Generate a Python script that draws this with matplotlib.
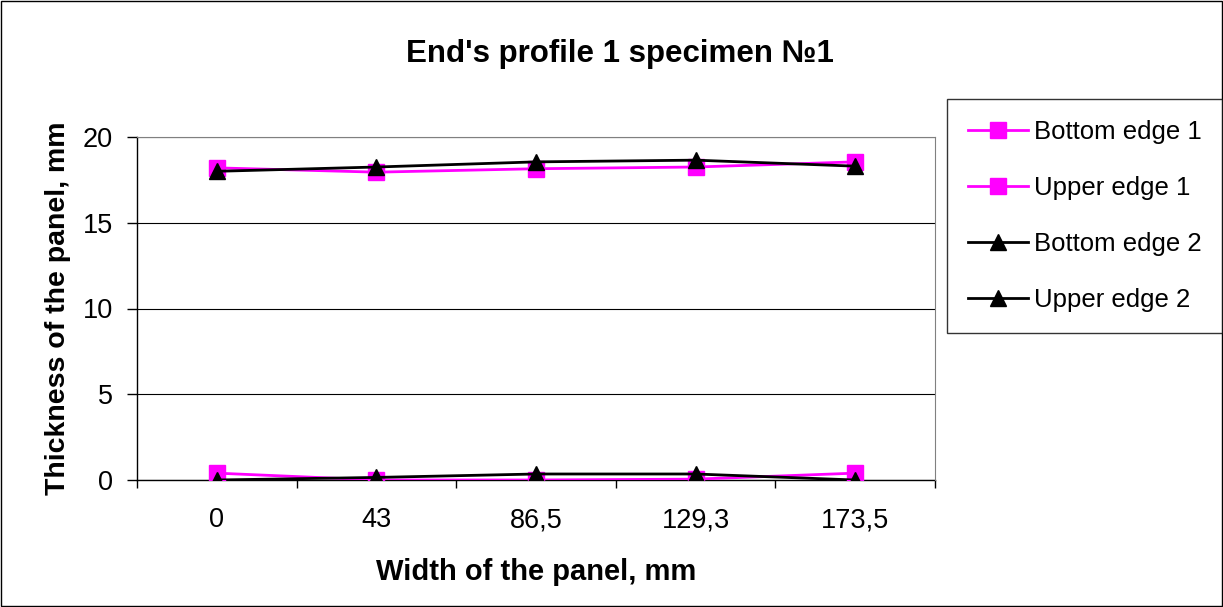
import numpy as np
import matplotlib.pyplot as plt
from matplotlib.patches import Rectangle

plt.rcParams['font.family'] = ['Liberation Sans', 'DejaVu Sans']

# panel width positions (category labels)
widths = ['0', '43', '86,5', '129,3', '173,5']

# measured thickness, mm
bottom_edge_1 = [0.4, 0.0, 0.0, 0.05, 0.4]
upper_edge_1 = [18.2, 17.95, 18.15, 18.25, 18.55]
bottom_edge_2 = [0.0, 0.15, 0.35, 0.35, 0.0]
upper_edge_2 = [18.0, 18.25, 18.55, 18.65, 18.3]

fig = plt.figure(figsize=(12.23, 6.07), dpi=100)
fig.patches.append(Rectangle((0.001, 0.002), 0.998, 0.996, transform=fig.transFigure,
                             fill=False, edgecolor='black', linewidth=1))

W, H = 1223, 607
ax = fig.add_axes([137 / W, 1 - 480 / H, (935 - 137) / W, (480 - 137) / H])

x = np.arange(len(widths))
mag = '#ff00ff'
ms = 11
lw = 2
ax.plot(x, bottom_edge_1, color=mag, marker='s', markersize=ms, linewidth=lw,
        label='Bottom edge 1', zorder=3)
ax.plot(x, upper_edge_1, color=mag, marker='s', markersize=ms, linewidth=lw,
        label='Upper edge 1', zorder=3)
ax.plot(x, bottom_edge_2, color='black', marker='^', markersize=ms, linewidth=lw,
        label='Bottom edge 2', zorder=4)
ax.plot(x, upper_edge_2, color='black', marker='^', markersize=ms, linewidth=lw,
        label='Upper edge 2', zorder=4)

ax.set_xlim(-0.5, len(widths) - 0.5)
ax.set_ylim(0, 20)
ax.set_yticks([0, 5, 10, 15, 20])
ax.yaxis.grid(True, color='black', linewidth=0.8)
ax.set_axisbelow(True)

# labels centred on categories, tick marks on category boundaries
ax.set_xticks(x)
ax.set_xticklabels(widths, fontsize=19.5)
ax.set_xticks(np.arange(-0.5, len(widths)), minor=True)
ax.tick_params(axis='x', which='major', length=0, pad=19.5)
ax.tick_params(axis='x', which='minor', length=6, width=1, direction='out')
ax.tick_params(axis='y', labelsize=19.5, length=7.2, width=1, direction='out', pad=10)

for side in ['top', 'right']:
    ax.spines[side].set_color('#808080')
for side in ['left', 'bottom']:
    ax.spines[side].set_color('black')
    ax.spines[side].set_linewidth(1)
ax.spines['bottom'].set_zorder(2)

ax.set_xlabel('Width of the panel, mm', fontsize=21, fontweight='bold', labelpad=18)
ax.set_ylabel('Thickness of the panel, mm', fontsize=20.5, fontweight='bold', labelpad=8.5)
fig.text(0.507, 1 - 54 / H, "End's profile 1 specimen №1", fontsize=22.5, fontweight='bold',
         ha='center', va='center')

leg = fig.legend(loc='upper left', bbox_to_anchor=(947 / W, 1 - 99 / H), fontsize=18.5,
                 frameon=True, fancybox=False, edgecolor='black', borderpad=0.82,
                 borderaxespad=0, labelspacing=1.24, handlelength=2.35, handletextpad=0.2)
leg.get_frame().set_linewidth(1)

fig.savefig('out.png', dpi=100)
